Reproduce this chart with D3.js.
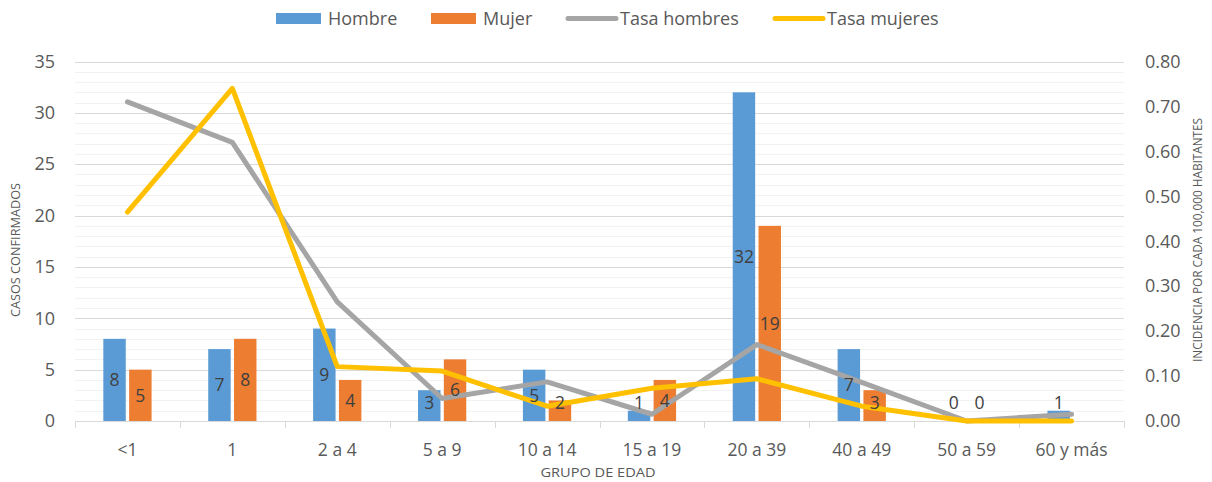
<!DOCTYPE html>
<html>
<head>
<meta charset="utf-8">
<script src="https://cdn.jsdelivr.net/npm/d3@7"></script>
<style>
  html, body { margin: 0; padding: 0; background: #fff; }
  svg { display: block; font-family: "Open Sans", "Lato", sans-serif; }
</style>
</head>
<body>
<svg id="chart" width="1212" height="482"></svg>
<script>
// ---- Data ----
const categories = ["<1", "1", "2 a 4", "5 a 9", "10 a 14", "15 a 19", "20 a 39", "40 a 49", "50 a 59", "60 y más"];
const hombre = [8, 7, 9, 3, 5, 1, 32, 7, 0, 1];
const mujer = [5, 8, 4, 6, 2, 4, 19, 3, 0, null];
const tasaHombres = [0.71, 0.62, 0.265, 0.05, 0.087, 0.015, 0.17, 0.086, 0.0, 0.015];
const tasaMujeres = [0.465, 0.74, 0.121, 0.111, 0.033, 0.073, 0.094, 0.033, 0.0, 0.0];
const leftTicks = [0, 5, 10, 15, 20, 25, 30, 35];
const rightTicks = [0, 0.1, 0.2, 0.3, 0.4, 0.5, 0.6, 0.7, 0.8];
const seriesNames = ["Hombre", "Mujer", "Tasa hombres", "Tasa mujeres"];

// ---- Layout ----
const svg = d3.select("#chart");
const plot = { left: 75, right: 1124, top: 61.5, bottom: 421 };
const colors = { Hombre: "#5B9BD5", Mujer: "#ED7D31", "Tasa hombres": "#A5A5A5", "Tasa mujeres": "#FFC000" };
const textGray = "#595959";

const x = d3.scaleBand().domain(categories).range([plot.left, plot.right]).padding(0);
const groupW = x.bandwidth() * 0.46;
const x1 = d3.scaleBand().domain(["Hombre", "Mujer"]).range([-groupW / 2, groupW / 2]).paddingInner(0.13);
const yL = d3.scaleLinear().domain([0, 35]).range([plot.bottom, plot.top]);
const yR = d3.scaleLinear().domain([0, 0.8]).range([plot.bottom, plot.top]);

// Gridlines (minor every 1, major every 5)
const minor = d3.range(1, 35).filter(v => v % 5 !== 0);
svg.append("g").selectAll("line").data(minor).join("line")
  .attr("x1", plot.left).attr("x2", plot.right)
  .attr("y1", d => Math.round(yL(d)) + 0.5).attr("y2", d => Math.round(yL(d)) + 0.5)
  .attr("stroke", "#f2f2f2").attr("stroke-width", 1);
svg.append("g").selectAll("line").data(leftTicks.filter(v => v > 0)).join("line")
  .attr("x1", plot.left).attr("x2", plot.right)
  .attr("y1", d => Math.round(yL(d)) + 0.5).attr("y2", d => Math.round(yL(d)) + 0.5)
  .attr("stroke", "#d9d9d9").attr("stroke-width", 1);

// Bars
const barData = [];
categories.forEach((c, i) => {
  barData.push({ cat: c, s: "Hombre", v: hombre[i] });
  barData.push({ cat: c, s: "Mujer", v: mujer[i] });
});
svg.append("g").selectAll("rect").data(barData.filter(d => d.v != null && d.v > 0)).join("rect")
  .attr("x", d => x(d.cat) + x.bandwidth() / 2 + x1(d.s))
  .attr("width", x1.bandwidth())
  .attr("y", d => yL(d.v))
  .attr("height", d => yL(0) - yL(d.v))
  .attr("fill", d => colors[d.s]);

// X axis line + ticks
svg.append("line").attr("x1", plot.left).attr("x2", plot.right)
  .attr("y1", plot.bottom + 0.5).attr("y2", plot.bottom + 0.5)
  .attr("stroke", "#d9d9d9").attr("stroke-width", 1);
const bounds = categories.map(c => x(c)).concat([plot.right]);
svg.append("g").selectAll("line").data(bounds).join("line")
  .attr("x1", d => Math.round(d) + 0.5).attr("x2", d => Math.round(d) + 0.5)
  .attr("y1", plot.bottom).attr("y2", plot.bottom + 7)
  .attr("stroke", "#d9d9d9").attr("stroke-width", 1);
svg.append("g").selectAll("text").data(categories).join("text")
  .attr("x", d => x(d) + x.bandwidth() / 2)
  .attr("y", 456)
  .attr("text-anchor", "middle")
  .attr("font-size", 17.5)
  .attr("fill", textGray)
  .text(d => d);

// Left axis
const gL = svg.append("g").attr("transform", `translate(${plot.left},0)`)
  .call(d3.axisLeft(yL).tickValues(leftTicks).tickSize(0).tickPadding(20).tickFormat(d3.format("d")));
gL.select(".domain").remove();
gL.selectAll("text").attr("font-size", 18).attr("fill", textGray).attr("font-family", "Open Sans");

// Right axis
const gR = svg.append("g").attr("transform", `translate(${plot.right},0)`)
  .call(d3.axisRight(yR).tickValues(rightTicks).tickSize(0).tickPadding(21).tickFormat(d3.format(".2f")));
gR.select(".domain").remove();
gR.selectAll("text").attr("font-size", 18).attr("fill", textGray).attr("font-family", "Open Sans");

// Lines
const lineL = d3.line().x((d, i) => x(categories[i]) + x.bandwidth() / 2).y(d => yR(d));
svg.append("path").datum(tasaHombres).attr("d", lineL)
  .attr("fill", "none").attr("stroke", colors["Tasa hombres"]).attr("stroke-width", 5)
  .attr("stroke-linejoin", "round").attr("stroke-linecap", "round");
svg.append("path").datum(tasaMujeres).attr("d", lineL)
  .attr("fill", "none").attr("stroke", colors["Tasa mujeres"]).attr("stroke-width", 5)
  .attr("stroke-linejoin", "round").attr("stroke-linecap", "round");

// Data labels on bars (centered, clamped near baseline)
svg.append("g").selectAll("text").data(barData.filter(d => d.v != null)).join("text")
  .attr("x", d => x(d.cat) + x.bandwidth() / 2 + x1(d.s) + x1.bandwidth() / 2)
  .attr("y", d => Math.min((yL(d.v) + yL(0)) / 2, plot.bottom - 18))
  .attr("dy", "0.36em")
  .attr("text-anchor", "middle")
  .attr("font-size", 17.5)
  .attr("fill", "#404040")
  .text(d => d.v);

// Axis titles
svg.append("text")
  .attr("transform", `translate(20,250) rotate(-90)`)
  .attr("text-anchor", "middle")
  .attr("font-size", 12.5)
  .attr("fill", textGray)
  .attr("textLength", 134).attr("lengthAdjust", "spacingAndGlyphs")
  .text("CASOS CONFIRMADOS");
svg.append("text")
  .attr("transform", `translate(1202,240) rotate(-90)`)
  .attr("text-anchor", "middle")
  .attr("font-size", 12.5)
  .attr("fill", textGray)
  .attr("textLength", 244).attr("lengthAdjust", "spacingAndGlyphs")
  .text("INCIDENCIA POR CADA 100,000 HABITANTES");
svg.append("text")
  .attr("x", 598).attr("y", 477)
  .attr("text-anchor", "middle")
  .attr("font-size", 13)
  .attr("fill", textGray)
  .attr("textLength", 115).attr("lengthAdjust", "spacingAndGlyphs")
  .text("GRUPO DE EDAD");

// Legend
const legendX = { "Hombre": 276, "Mujer": 431, "Tasa hombres": 566, "Tasa mujeres": 773 };
const lg = svg.append("g");
seriesNames.forEach((s, i) => {
  const g = lg.append("g");
  const isBar = i < 2;
  if (isBar) {
    g.append("rect").attr("x", legendX[s]).attr("y", 13).attr("width", 45).attr("height", 11).attr("fill", colors[s]);
  } else {
    g.append("line").attr("x1", legendX[s] + 2).attr("x2", legendX[s] + 50)
      .attr("y1", 18.5).attr("y2", 18.5)
      .attr("stroke", colors[s]).attr("stroke-width", 5).attr("stroke-linecap", "round");
  }
  g.append("text").attr("x", legendX[s] + (isBar ? 52 : 54)).attr("y", 25)
    .attr("font-size", 18).attr("fill", textGray).text(s);
});
</script>
</body>
</html>
